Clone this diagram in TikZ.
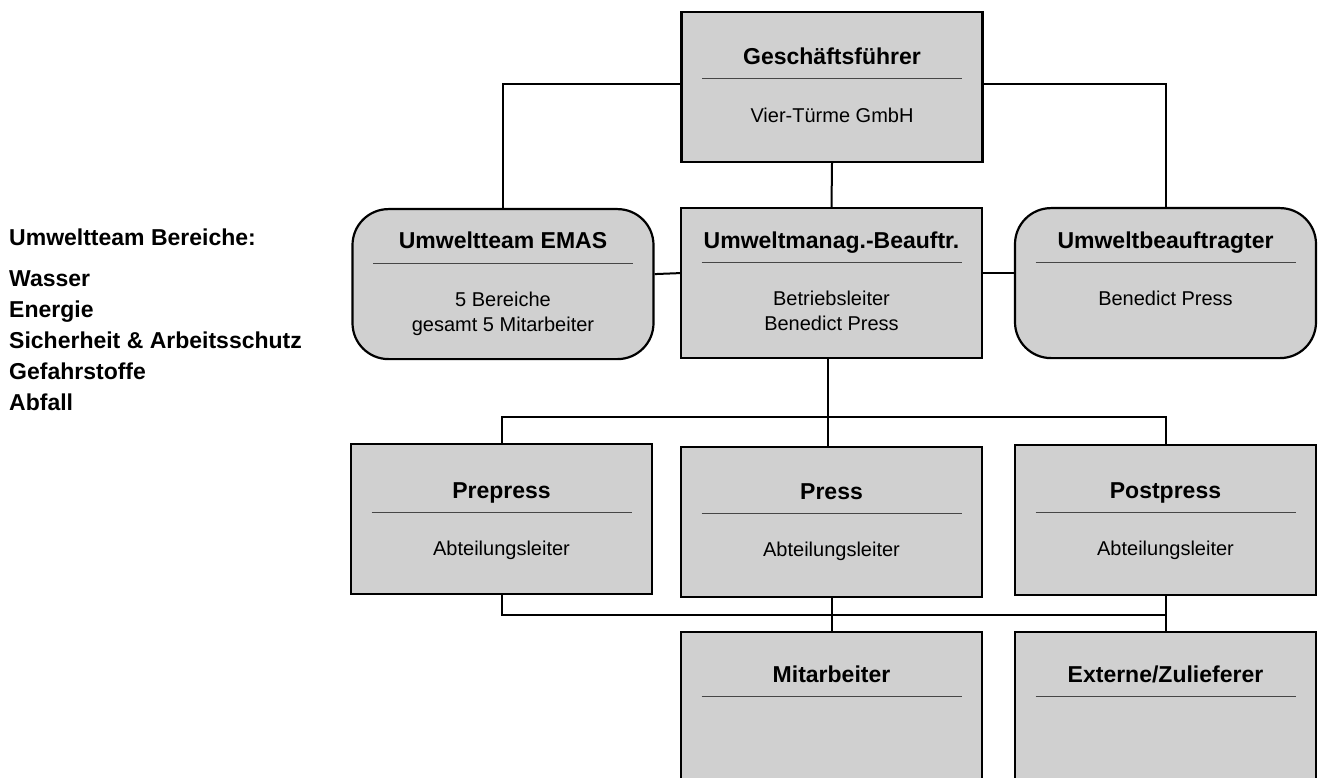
\documentclass[tikz,border=0pt]{standalone}
\usepackage{fontspec}
\setmainfont{Liberation Sans}
\usetikzlibrary{positioning,calc}

\definecolor{boxgray}{RGB}{208,208,208}
\definecolor{rulegray}{RGB}{70,70,70}

\tikzset{
	orgbox/.style={draw=black, line width=2.2pt, fill=boxgray, minimum width=301pt, minimum height=150pt, inner sep=0pt},
	roundbox/.style={orgbox, rounded corners=36pt},
	headtext/.style={font=\fontsize{23}{27}\selectfont\bfseries, anchor=base, inner sep=0pt},
	subtext/.style={font=\fontsize{20}{25}\selectfont, anchor=north, align=center, inner sep=0pt},
	divider/.style={draw=rulegray, line width=1pt},
	link/.style={draw=black, line width=2pt}
}

% box with title, rule and subtitle: name, style, top centre, rule offset, title, subtitle
\newcommand{\orgunit}[6]{%
	\node [#2, anchor=north] (#1) at (#3) {};
	\coordinate (#1-rule) at ($(#1.north)+(0,#4)$);
	\node [headtext] (#1-head) at ($(#1-rule)+(0,-14)$) {#5};
	\draw [divider] ($(#1-rule)+(-130,0)$) -- ($(#1-rule)+(130,0)$);
	\node [subtext] (#1-sub) at ($(#1-rule)+(0,29)$) {#6};
}

\begin{document}
\begin{tikzpicture}[x=1pt, y=-1pt]

	\useasboundingbox (0,0) rectangle (1320,778);

	% boxes
	\orgunit{gf}{orgbox}{832,11}{68}{Geschäftsführer}{Vier-Türme GmbH}
	\orgunit{emas}{roundbox}{503,208}{55}{Umweltteam EMAS}{5 Bereiche\\gesamt 5 Mitarbeiter}
	\orgunit{umb}{orgbox}{831.5,207}{55}{Umweltmanag.-Beauftr.}{Betriebsleiter\\Benedict Press}
	\orgunit{ub}{roundbox}{1165.5,207}{55}{Umweltbeauftragter}{Benedict Press}
	\orgunit{pre}{orgbox}{501.5,443}{69}{Prepress}{Abteilungsleiter}
	\orgunit{press}{orgbox}{831.5,446}{67}{Press}{Abteilungsleiter}
	\orgunit{post}{orgbox}{1165.5,444}{68}{Postpress}{Abteilungsleiter}
	\orgunit{mit}{orgbox, minimum height=160pt}{831.5,631}{65}{Mitarbeiter}{}
	\orgunit{ext}{orgbox, minimum height=160pt}{1165.5,631}{65}{Externe/Zulieferer}{}

	% connectors
	\draw [link] ([yshift=3pt]gf.west) -| (emas.north);
	\draw [link] ([yshift=3pt]gf.east) -| (ub.north);
	\draw [link] (gf.south) -- (umb.north);
	\draw [link] ([yshift=10pt]emas.east) -- ([yshift=10pt]umb.west);
	\draw [link] ([yshift=10pt]umb.east) -- ([yshift=10pt]ub.west);
	\draw [link] ([xshift=-3.5pt]umb.south) -- ([xshift=-3.5pt]press.north);
	\draw [link] (pre.north) -- ++(0,-26) -| (post.north);
	\draw [link] (pre.south) -- ++(0,20) -| (ext.north);
	\draw [link] (post.south) -- (ext.north);
	\draw [link] (press.south) -- (mit.north);

	% labels
	\node [anchor=base west, align=left, inner sep=0pt,
		font=\fontsize{23}{31}\selectfont\bfseries] (areas) at (9,410)
		{Umweltteam Bereiche:\\[10pt] Wasser\\ Energie\\ Sicherheit \& Arbeitsschutz\\ Gefahrstoffe\\ Abfall};

\end{tikzpicture}
\end{document}
